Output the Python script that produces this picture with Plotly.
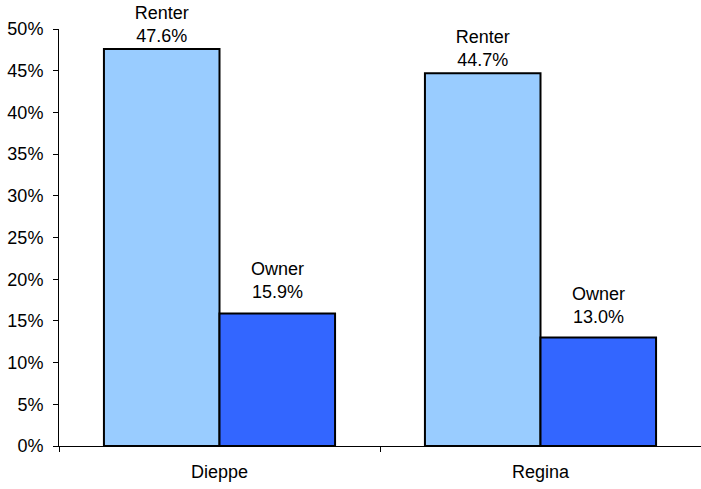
import plotly.graph_objects as go

categories = ["Dieppe", "Regina"]
renter = [47.6, 44.7]
owner = [15.9, 13.0]
y_ticks = [0, 5, 10, 15, 20, 25, 30, 35, 40, 45, 50]
y_tick_labels = [f"{v}%" for v in y_ticks]

font = dict(family="Liberation Sans, Arial, sans-serif", size=18, color="black")
bargap = 0.28

fig = go.Figure()
fig.add_trace(go.Bar(
    x=categories, y=renter, name="Renter",
    marker=dict(color="#99CCFF", line=dict(color="black", width=2)),
    text=[f"Renter<br>{v:.1f}%" for v in renter],
    textposition="outside", textfont=font, cliponaxis=False,
))
fig.add_trace(go.Bar(
    x=categories, y=owner, name="Owner",
    marker=dict(color="#3366FF", line=dict(color="black", width=2)),
    cliponaxis=False,
))

# Owner labels, sitting a little higher above their bars
offset = (1 - bargap) / 4
for i, v in enumerate(owner):
    fig.add_annotation(
        x=i + offset, y=v, xref="x", yref="y",
        text=f"Owner<br>{v:.1f}%", showarrow=False,
        yanchor="bottom", yshift=9, font=font,
    )

fig.update_layout(
    width=701, height=489,
    margin=dict(l=59, r=0, t=29, b=43),
    plot_bgcolor="white", paper_bgcolor="white",
    showlegend=False,
    barmode="group", bargap=bargap, bargroupgap=0,
    font=font,
)
fig.update_yaxes(
    range=[0, 50], tickvals=y_ticks, ticktext=y_tick_labels,
    showgrid=False, zeroline=False,
    showline=True, linecolor="black", linewidth=1,
    ticks="outside", ticklen=5, tickcolor="black",
    tickfont=font, automargin=False, ticklabelstandoff=6,
)
fig.update_xaxes(
    showgrid=False, showline=True, linecolor="black", linewidth=1,
    ticks="outside", ticklen=5, tickcolor="black", tickson="boundaries",
    tickfont=font, automargin=False, ticklabelstandoff=9,
)

fig.write_html("out.html", config={"displayModeBar": False},
               post_script="document.body.style.margin='0';")
